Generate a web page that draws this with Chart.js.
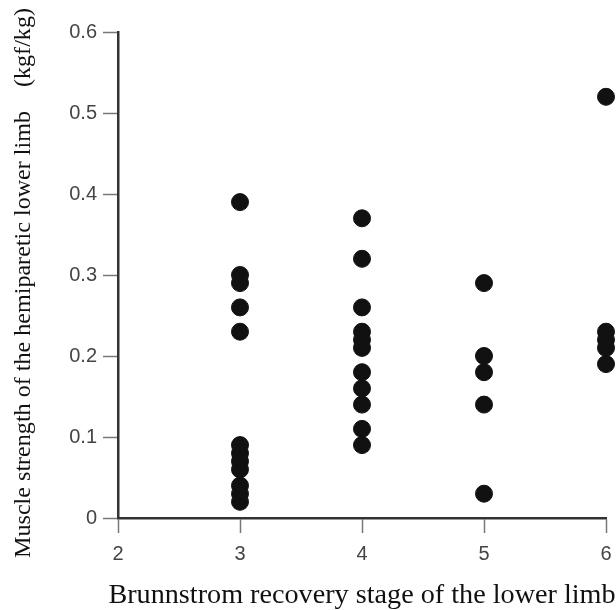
<!DOCTYPE html>
<html>
<head>
<meta charset="utf-8">
<script src="https://cdn.jsdelivr.net/npm/chart.js@4"></script>
<style>
  html, body { margin: 0; padding: 0; background: #fff; }
  #wrap { width: 616px; height: 610px; }
</style>
</head>
<body>
<div id="wrap"><canvas id="scatterChart" width="616" height="610"></canvas></div>
<script>
// Brunnstrom stage vs. muscle strength (kgf/kg)
const stage3 = [0.39, 0.30, 0.29, 0.26, 0.23, 0.09, 0.08, 0.07, 0.06, 0.04, 0.03, 0.02];
const stage4 = [0.37, 0.32, 0.26, 0.23, 0.22, 0.21, 0.18, 0.16, 0.14, 0.11, 0.09];
const stage5 = [0.29, 0.20, 0.18, 0.14, 0.03];
const stage6 = [0.52, 0.23, 0.22, 0.21, 0.19];
const stages = [3, 4, 5, 6];
const xTitle = 'Brunnstrom recovery stage of the lower limb';
const yTitle = 'Muscle strength of the hemiparetic lower limb\u3000(kgf/kg)';

const points = [];
[stage3, stage4, stage5, stage6].forEach((vals, i) => {
  vals.forEach(v => points.push({ x: stages[i], y: v }));
});

// draw text at a size that fills the given width
function fitText(c, text, width, family) {
  c.font = '20px ' + family;
  const size = 20 * width / c.measureText(text).width;
  c.font = size.toFixed(1) + 'px ' + family;
}

// axis titles drawn in serif like the original figure
const axisTitles = {
  id: 'axisTitles',
  afterDraw(chart) {
    const c = chart.ctx;
    const fam = '"Liberation Serif", serif';
    c.save();
    c.fillStyle = '#111';
    c.textAlign = 'center';
    c.textBaseline = 'alphabetic';
    fitText(c, xTitle, 508, fam);
    c.fillText(xTitle, 362, 603);
    c.translate(30, 283);
    c.rotate(-Math.PI / 2);
    fitText(c, yTitle, 550, fam);
    c.fillText(yTitle, 0, 0);
    c.restore();
  }
};

new Chart(document.getElementById('scatterChart'), {
  type: 'scatter',
  data: {
    datasets: [{
      data: points,
      backgroundColor: '#111',
      borderColor: '#111',
      pointRadius: 8.5,
      pointHoverRadius: 8.5,
      clip: false,
    }]
  },
  options: {
    responsive: false,
    animation: false,
    layout: { padding: { top: 32, right: 10, left: 0, bottom: 0 } },
    plugins: { legend: { display: false }, tooltip: { enabled: false } },
    scales: {
      x: {
        min: 2, max: 6,
        ticks: { stepSize: 1, color: '#444', padding: 9, font: { family: '"Liberation Sans", Arial', size: 20 } },
        grid: { drawOnChartArea: false, tickLength: 15, color: '#777', tickWidth: 1.5 },
        border: { color: '#333', width: 2.5 },
        afterFit(s) { s.height = 92; s.paddingRight = 0; s.paddingLeft = 0; }
      },
      y: {
        min: 0, max: 0.6,
        ticks: { stepSize: 0.1, color: '#444', padding: 6, font: { family: '"Liberation Sans", Arial', size: 20 } },
        grid: { drawOnChartArea: false, tickLength: 15, color: '#777', tickWidth: 1.5 },
        border: { color: '#333', width: 2.5 },
        afterFit(s) { s.width = 118; s.paddingTop = 0; s.paddingBottom = 0; }
      }
    }
  },
  plugins: [axisTitles]
});
</script>
</body>
</html>
